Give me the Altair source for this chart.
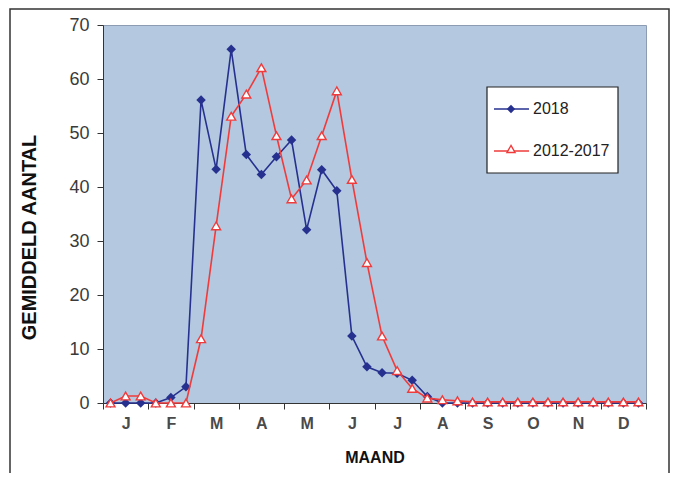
import altair as alt
import pandas as pd

months = ['J', 'F', 'M', 'A', 'M', 'J', 'J', 'A', 'S', 'O', 'N', 'D']
series_names = ['2018', '2012-2017']
values_2018 = [0, 0, 0, 0, 1.0, 3.0, 56.1, 43.3, 65.5, 46.0, 42.3, 45.6,
               48.7, 32.1, 43.2, 39.3, 12.4, 6.7, 5.6, 5.5, 4.2, 1.2, 0, 0,
               0, 0, 0, 0, 0, 0, 0, 0, 0, 0, 0, 0]
values_1217 = [0, 1.3, 1.3, 0, 0, 0, 11.9, 32.8, 53.1, 57.2, 62.1, 49.5,
               37.8, 41.3, 49.5, 57.8, 41.4, 26.0, 12.4, 6.0, 2.7, 0.9, 0.6, 0.4,
               0.2, 0.2, 0.2, 0.2, 0.2, 0.2, 0.2, 0.2, 0.2, 0.2, 0.2, 0.2]
y_ticks = [0, 10, 20, 30, 40, 50, 60, 70]

BLUE = '#26318f'
RED = '#ef3b3b'

n = len(values_2018)
df_a = pd.DataFrame({'pos': [i + 0.5 for i in range(n)], 'val': values_2018, 'series': series_names[0]})
df_b = pd.DataFrame({'pos': [i + 0.5 for i in range(n)], 'val': values_1217, 'series': series_names[1]})

month_arr = "[" + ",".join("'%s'" % m for m in months) + "]"
x_enc = alt.X('pos:Q',
              scale=alt.Scale(domain=[0, 36], nice=False, zero=False),
              axis=alt.Axis(values=list(range(0, 37, 3)),
                            labelExpr=month_arr + "[round(datum.value/3)] || ''",
                            labelOffset=22.6, labelOverlap=False, labelFlush=False,
                            labelFontSize=16, labelFontWeight='bold', labelColor='#4a4a4a',
                            labelPadding=6, tickSize=6, tickColor='#333', domainColor='#333',
                            grid=False, title='MAAND', titleFontSize=16, titleFontWeight='bold',
                            titleColor='#111', titlePadding=18))
y_enc = alt.Y('val:Q',
              scale=alt.Scale(domain=[0, 70], nice=False),
              axis=alt.Axis(values=y_ticks, labelFontSize=18, labelColor='#3a3a3a',
                            labelPadding=8, tickSize=6, tickColor='#333', domainColor='#333',
                            grid=False, title='GEMIDDELD AANTAL', titleFontSize=20,
                            titleFontWeight='bold', titleColor='#111', titlePadding=29,
                            titleY=212))

line_a = alt.Chart(df_a).mark_line(color=BLUE, strokeWidth=1.6).encode(x=x_enc, y=y_enc)
pts_a = alt.Chart(df_a).mark_point(shape='diamond', filled=True, color=BLUE, size=90, opacity=1).encode(x='pos:Q', y='val:Q')
line_b = alt.Chart(df_b).mark_line(color=RED, strokeWidth=1.6).encode(x='pos:Q', y='val:Q')
pts_b = alt.Chart(df_b).mark_point(shape='triangle-up', filled=False, fill='white', fillOpacity=1,
                                   stroke=RED, strokeWidth=1.4, size=80, opacity=1).encode(x='pos:Q', y='val:Q')

one = pd.DataFrame({'k': [0]})
frame = alt.Chart(one).mark_rect(fill=None, stroke='#333', strokeWidth=1.5).encode(
    x=alt.value(-93), x2=alt.value(566), y=alt.value(-16), y2=alt.value(470))

# legend (decoration)
leg_box = alt.Chart(one).mark_rect(fill='white', stroke='#222', strokeWidth=1.2).encode(
    x=alt.value(384), x2=alt.value(515), y=alt.value(62), y2=alt.value(148))
leg_df = pd.DataFrame({'series': series_names})
leg_rule_a = alt.Chart(one).mark_rule(color=BLUE, strokeWidth=1.6).encode(
    x=alt.value(391), x2=alt.value(426), y=alt.value(84))
leg_pt_a = alt.Chart(one).mark_point(shape='diamond', filled=True, color=BLUE, size=70, opacity=1).encode(
    x=alt.value(408), y=alt.value(84))
leg_txt_a = alt.Chart(leg_df.iloc[[0]]).mark_text(align='left', baseline='middle', fontSize=16,
                                                 color='#222', font='Liberation Sans').encode(
    x=alt.value(430), y=alt.value(84), text='series:N')
leg_rule_b = alt.Chart(one).mark_rule(color=RED, strokeWidth=1.6).encode(
    x=alt.value(391), x2=alt.value(426), y=alt.value(126))
leg_pt_b = alt.Chart(one).mark_point(shape='triangle-up', filled=False, fill='white', fillOpacity=1,
                                     stroke=RED, strokeWidth=1.4, size=65, opacity=1).encode(
    x=alt.value(408), y=alt.value(124))
leg_txt_b = alt.Chart(leg_df.iloc[[1]]).mark_text(align='left', baseline='middle', fontSize=16,
                                                 color='#222', font='Liberation Sans').encode(
    x=alt.value(430), y=alt.value(126), text='series:N')

chart = alt.layer(
    frame, line_a, pts_a, line_b, pts_b,
    leg_box, leg_rule_a, leg_pt_a, leg_txt_a, leg_rule_b, leg_pt_b, leg_txt_b
).properties(
    width=543, height=378,
    autosize=alt.AutoSizeParams(type='none'),
    padding={'left': 95, 'top': 17, 'right': 25, 'bottom': 70},
    background='white'
).configure_view(
    fill='#b4c8e0', stroke='#8c9cb2', strokeWidth=1
).configure_axis(
    labelFont='Liberation Sans', titleFont='Liberation Sans'
)

chart.save('out.html', embed_options={'renderer': 'svg', 'actions': False})
